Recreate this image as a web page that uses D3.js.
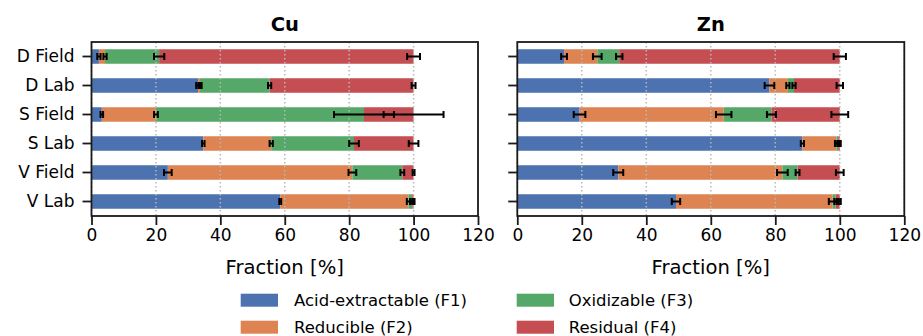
<!DOCTYPE html>
<html>
<head>
<meta charset="utf-8">
<script src="https://cdn.jsdelivr.net/npm/d3@7/dist/d3.min.js"></script>
<style>
  html, body { margin: 0; padding: 0; background: #fff; }
  svg { display: block; font-family: "DejaVu Sans", sans-serif; }
</style>
</head>
<body>
<svg id="chart" width="923" height="336"></svg>
<script>
// Sample sites / treatments, top to bottom
const categories = ["D Field", "D Lab", "S Field", "S Lab", "V Field", "V Lab"];

// Fraction names and colours
const fractions = ["Acid-extractable (F1)", "Reducible (F2)", "Oxidizable (F3)", "Residual (F4)"];
const fractionColors = ["#4C72B0", "#DD8452", "#55A868", "#C44E52"];

// Cu fractions [%] per category: F1, F2, F3, F4
const cuF1 = [2.3, 33.1, 3.2, 34.7, 23.7, 58.6];
const cuF2 = [1.9, 0.6, 16.8, 21.1, 57.3, 39.8];
const cuF3 = [16.8, 21.6, 64.6, 25.7, 15.5, 1.2];
const cuF4 = [79.0, 44.7, 15.4, 18.5, 3.5, 0.4];
// Cu standard deviations
const cuE1 = [0.5, 0.6, 0.4, 0.4, 1.2, 0.3];
const cuE2 = [0.5, 0.5, 0.6, 0.5, 1.2, 0.5];
const cuE3 = [1.6, 0.5, 9.3, 1.5, 0.6, 0.5];
const cuE4 = [2.0, 0.6, 9.3, 1.5, 0.3, 0.3];

// Zn fractions [%] per category
const znF1 = [14.5, 78.2, 19.3, 88.4, 31.3, 49.2];
const znF2 = [10.3, 5.7, 44.7, 10.6, 50.9, 48.6];
const znF3 = [6.8, 1.9, 14.8, 0.5, 4.7, 0.9];
const znF4 = [68.4, 14.2, 21.2, 0.5, 13.1, 1.3];
// Zn standard deviations
const znE1 = [0.9, 1.5, 1.8, 0.5, 1.55, 1.3];
const znE2 = [1.35, 0.5, 2.4, 0.5, 1.65, 1.2];
const znE3 = [1.0, 0.5, 1.4, 0.3, 0.6, 0.4];
const znE4 = [1.9, 1.0, 2.6, 0.3, 1.2, 0.3];

const xTicks = [0, 20, 40, 60, 80, 100, 120];

const panels = [
  { title: "Cu", left: 91.5, right: 478, vals: [cuF1, cuF2, cuF3, cuF4], errs: [cuE1, cuE2, cuE3, cuE4], labels: true },
  { title: "Zn", left: 517.3, right: 904.3, vals: [znF1, znF2, znF3, znF4], errs: [znE1, znE2, znE3, znE4], labels: false }
];

const svg = d3.select("#chart");
const plotTop = 42, plotBottom = 216;
const axisColor = "#1a1a1a";
const tickFont = 17;
const labelFont = 19.6;
const legendFont = 16.5;

const y = d3.scaleBand().domain(categories).range([plotTop, plotBottom]).paddingInner(0.5).paddingOuter(0.25);

panels.forEach(p => {
  const x = d3.scaleLinear().domain([0, 120]).range([p.left, p.right]);
  const g = svg.append("g");

  // stacked segments
  const stacked = categories.map((c, i) => {
    let acc = 0;
    return p.vals.map((arr, k) => {
      const seg = { cat: c, k, x0: acc, x1: acc + arr[i], err: p.errs[k][i] };
      acc += arr[i];
      return seg;
    });
  });
  const segs = stacked.flat();

  g.selectAll("rect.seg").data(segs).join("rect")
    .attr("class", "seg")
    .attr("x", d => x(d.x0))
    .attr("width", d => x(d.x1) - x(d.x0))
    .attr("y", d => y(d.cat))
    .attr("height", y.bandwidth())
    .attr("fill", d => fractionColors[d.k]);

  // dotted vertical grid
  g.selectAll("line.grid").data(xTicks).join("line")
    .attr("class", "grid")
    .attr("x1", d => x(d)).attr("x2", d => x(d))
    .attr("y1", plotTop).attr("y2", plotBottom)
    .attr("stroke", "#b8b8b8")
    .attr("stroke-width", 1.5)
    .attr("stroke-dasharray", "1.5,2.5");

  // error bars at the end of each segment
  const cap = 3.5;
  const eb = g.selectAll("g.err").data(segs).join("g").attr("class", "err")
    .attr("stroke", "#000").attr("stroke-width", 2);
  eb.append("line")
    .attr("x1", d => x(d.x1 - d.err)).attr("x2", d => x(d.x1 + d.err))
    .attr("y1", d => y(d.cat) + y.bandwidth() / 2).attr("y2", d => y(d.cat) + y.bandwidth() / 2);
  eb.append("line")
    .attr("x1", d => x(d.x1 - d.err)).attr("x2", d => x(d.x1 - d.err))
    .attr("y1", d => y(d.cat) + y.bandwidth() / 2 - cap).attr("y2", d => y(d.cat) + y.bandwidth() / 2 + cap);
  eb.append("line")
    .attr("x1", d => x(d.x1 + d.err)).attr("x2", d => x(d.x1 + d.err))
    .attr("y1", d => y(d.cat) + y.bandwidth() / 2 - cap).attr("y2", d => y(d.cat) + y.bandwidth() / 2 + cap);

  // frame
  g.append("rect")
    .attr("x", p.left).attr("y", plotTop)
    .attr("width", p.right - p.left).attr("height", plotBottom - plotTop)
    .attr("fill", "none").attr("stroke", axisColor).attr("stroke-width", 1.8);

  // x axis
  const xAxis = d3.axisBottom(x).tickValues(xTicks).tickSize(9).tickPadding(4).tickFormat(d3.format("d"));
  const xa = g.append("g").attr("transform", `translate(0,${plotBottom})`).call(xAxis);
  xa.select(".domain").remove();
  xa.selectAll(".tick line").attr("stroke", axisColor).attr("stroke-width", 1.8);
  xa.selectAll(".tick text").attr("fill", "#000").attr("font-size", tickFont)
    .attr("font-family", "DejaVu Sans").attr("dy", "0.71em");

  // y axis
  const yAxis = d3.axisLeft(y).tickSize(9).tickPadding(8);
  if (!p.labels) yAxis.tickFormat("");
  const ya = g.append("g").attr("transform", `translate(${p.left},0)`).call(yAxis);
  ya.select(".domain").remove();
  ya.selectAll(".tick line").attr("stroke", axisColor).attr("stroke-width", 1.8);
  ya.selectAll(".tick text").attr("fill", "#000").attr("font-size", tickFont)
    .attr("font-family", "DejaVu Sans");

  // title
  g.append("text")
    .attr("x", (p.left + p.right) / 2).attr("y", 30.7)
    .attr("text-anchor", "middle")
    .attr("font-size", 19.5).attr("font-weight", "bold")
    .text(p.title);

  // x label
  g.append("text")
    .attr("x", (p.left + p.right) / 2).attr("y", 273.5)
    .attr("text-anchor", "middle")
    .attr("font-size", labelFont)
    .text("Fraction [%]");
});

// legend (two columns)
const legendPos = [
  { px: 240.7, tx: 294, py: 293.7, ty: 306 },
  { px: 240.7, tx: 294, py: 320.7, ty: 332.7 },
  { px: 516.7, tx: 568.7, py: 293.7, ty: 306 },
  { px: 516.7, tx: 568.7, py: 320.7, ty: 332.7 }
];
const lg = svg.append("g").selectAll("g").data(fractions).join("g");
lg.append("rect")
  .attr("x", (d, i) => legendPos[i].px).attr("y", (d, i) => legendPos[i].py)
  .attr("width", 37.3).attr("height", 13)
  .attr("fill", (d, i) => fractionColors[i]);
lg.append("text")
  .attr("x", (d, i) => legendPos[i].tx).attr("y", (d, i) => legendPos[i].ty)
  .attr("font-size", legendFont)
  .text(d => d);
</script>
</body>
</html>
